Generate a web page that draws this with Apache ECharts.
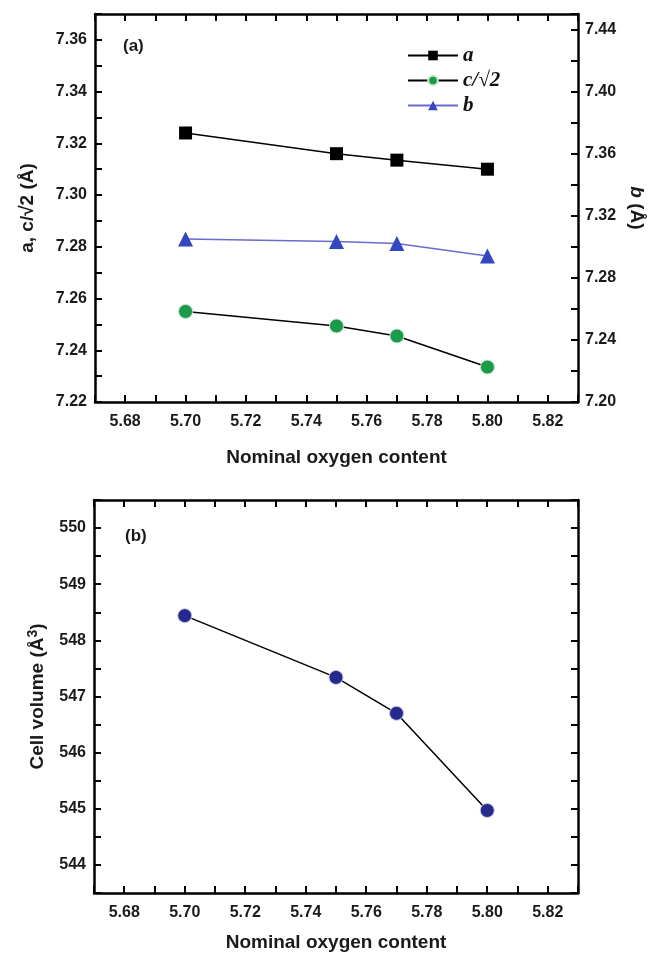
<!DOCTYPE html>
<html>
<head>
<meta charset="utf-8">
<script src="https://cdn.jsdelivr.net/npm/echarts@6/dist/echarts.min.js"></script>
<style>
  html, body { margin: 0; padding: 0; background: #fff; }
  #chart { width: 649px; height: 953px; }
</style>
</head>
<body>
<div id="chart"></div>
<script>
// nominal oxygen content (x for both panels)
const oxygen = [5.70, 5.75, 5.77, 5.80];
// panel (a), left axis
const aVals = [7.324, 7.316, 7.3135, 7.310];
const cVals = [7.255, 7.2494, 7.2455, 7.2335];
// panel (a), right axis
const bVals = [7.305, 7.3034, 7.3022, 7.2941];
// panel (b)
const volume = [548.44, 547.34, 546.70, 544.97];

const pairs = ys => oxygen.map((x, i) => [x, ys[i]]);
const onStep = (v, step) => Math.abs(v / step - Math.round(v / step)) < 1e-6;

const sans = 'Liberation Sans';
const tickLbl = { fontFamily: sans, fontWeight: 'bold', fontSize: 16, color: '#1a1a1a' };
const nameTxt = { fontFamily: sans, fontWeight: 'bold', fontSize: 19, color: '#1a1a1a' };
const line = { lineStyle: { color: '#000', width: 2.5 } };
const tick = { inside: true, length: 7, lineStyle: { color: '#000', width: 2 } };

function xAx(grid, pos, withLabels, name, gap) {
  return {
    type: 'value', gridIndex: grid, position: pos,
    min: 5.67, max: 5.83, interval: 0.01,
    axisLine: line, axisTick: tick, splitLine: { show: false },
    axisLabel: withLabels ? Object.assign({ margin: 12,
      formatter: v => onStep(v, 0.02) ? v.toFixed(2) : '' }, tickLbl) : { show: false },
    name: name || '', nameLocation: 'middle', nameGap: gap || 0, nameTextStyle: nameTxt
  };
}

const chart = echarts.init(document.getElementById('chart'), null, { renderer: 'canvas' });

const option = {
  backgroundColor: '#ffffff',
  animation: false,
  grid: [
    { left: 95, top: 14, width: 483, height: 388, outerBoundsMode: 'none' },
    { left: 94, top: 500, width: 484, height: 393, outerBoundsMode: 'none' }
  ],
  legend: {
    data: ['a', 'c/√2', 'b'],
    orient: 'vertical', left: 402, top: 40,
    itemWidth: 50, itemHeight: 12, itemGap: 4,
    textStyle: { fontFamily: 'Liberation Serif', fontStyle: 'italic', fontWeight: 'bold', fontSize: 21, color: '#111' }
  },
  xAxis: [
    xAx(0, 'bottom', true, 'Nominal oxygen content', 46),
    xAx(0, 'top', false),
    xAx(1, 'bottom', true, 'Nominal oxygen content', 40),
    xAx(1, 'top', false)
  ],
  yAxis: [
    {
      type: 'value', gridIndex: 0, position: 'left',
      min: 7.22, max: 7.37, interval: 0.01,
      axisLine: line, axisTick: tick, splitLine: { show: false },
      axisLabel: Object.assign({ margin: 8, formatter: v => onStep(v, 0.02) ? v.toFixed(2) : '' }, tickLbl),
      name: 'a, c/√2 (Å)', nameLocation: 'middle', nameGap: 58, nameTextStyle: nameTxt
    },
    {
      type: 'value', gridIndex: 0, position: 'right',
      min: 7.20, max: 7.45, interval: 0.02,
      axisLine: line, axisTick: tick, splitLine: { show: false },
      axisLabel: Object.assign({ margin: 7, formatter: v => onStep(v, 0.04) ? v.toFixed(2) : '' }, tickLbl),
      name: '{i|b} (Å)', nameLocation: 'middle', nameGap: 49, nameRotate: -90,
      nameTextStyle: Object.assign({ rich: { i: { fontFamily: sans, fontWeight: 'bold', fontStyle: 'italic', fontSize: 19, color: '#1a1a1a' } } }, nameTxt)
    },
    {
      type: 'value', gridIndex: 1, position: 'left',
      min: 543.5, max: 550.5, interval: 0.5,
      axisLine: line, axisTick: tick, splitLine: { show: false },
      axisLabel: Object.assign({ margin: 8, formatter: v => onStep(v, 1) ? String(Math.round(v)) : '' }, tickLbl),
      name: '{n|Cell volume (Å}{s|3}{n|)}', nameLocation: 'middle', nameGap: 44,
      nameTextStyle: Object.assign({ rich: {
        n: { fontFamily: sans, fontWeight: 'bold', fontSize: 19, color: '#1a1a1a' },
        s: { fontFamily: sans, fontWeight: 'bold', fontSize: 14, color: '#1a1a1a', verticalAlign: 'top', padding: [0, 0, 10, 0] }
      } }, nameTxt)
    },
    {
      type: 'value', gridIndex: 1, position: 'right',
      min: 543.5, max: 550.5, interval: 0.5,
      axisLine: line, axisTick: tick, splitLine: { show: false },
      axisLabel: { show: false }
    }
  ],
  series: [
    {
      name: 'a', type: 'line', xAxisIndex: 0, yAxisIndex: 0,
      data: pairs(aVals), symbol: 'rect', symbolSize: 13,
      itemStyle: { color: '#000' }, lineStyle: { color: '#000', width: 1.5 }
    },
    {
      name: 'c/√2', type: 'line', xAxisIndex: 0, yAxisIndex: 0,
      data: pairs(cVals), symbol: 'circle', symbolSize: 14,
      itemStyle: { color: '#1a9a4a', borderColor: '#c8e6c8', borderWidth: 1 },
      lineStyle: { color: '#000', width: 1.5 }
    },
    {
      name: 'b', type: 'line', xAxisIndex: 0, yAxisIndex: 1,
      data: pairs(bVals), symbol: 'triangle', symbolSize: 15,
      itemStyle: { color: '#3347c0' }, lineStyle: { color: '#6a6ad0', width: 1.5 }
    },
    {
      name: 'volume', type: 'line', xAxisIndex: 2, yAxisIndex: 2,
      data: pairs(volume), symbol: 'circle', symbolSize: 14,
      itemStyle: { color: '#262a8c', borderColor: '#c8c8e6', borderWidth: 1 },
      lineStyle: { color: '#000', width: 1.5 }
    }
  ],
  graphic: [
    { type: 'text', left: 123, top: 38, style: { text: '(a)', font: 'bold 17px "Liberation Sans"', fill: '#1a1a1a' } },
    { type: 'text', left: 125, top: 528, style: { text: '(b)', font: 'bold 17px "Liberation Sans"', fill: '#1a1a1a' } }
  ]
};

chart.setOption(option);
</script>
</body>
</html>
